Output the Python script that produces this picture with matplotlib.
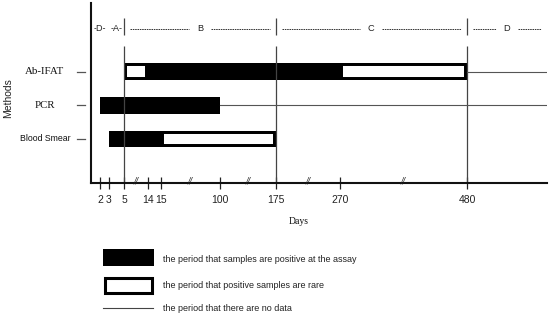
import numpy as np
import matplotlib
matplotlib.use("Agg")
import matplotlib.pyplot as plt
from matplotlib.patches import Rectangle
from matplotlib.lines import Line2D
import matplotlib.transforms as mtransforms

# ---------------- data ----------------
methods = ["Blood Smear", "PCR", "Ab-IFAT"]          # bottom -> top
method_fonts = ["Liberation Sans", "Liberation Serif", "Liberation Serif"]
# segments: (start day, end day, kind)
x_end = 600
segments = {
    "Ab-IFAT": [(5, 14, "rare"), (14, 270, "pos"), (270, 480, "rare"), (480, x_end, "nodata")],
    "PCR": [(2, 100, "pos"), (100, x_end, "nodata")],
    "Blood Smear": [(3, 15, "pos"), (15, 175, "rare")],
}
tick_days = [2, 3, 5, 14, 15, 100, 175, 270, 480]
break_pairs = [(5, 14), (15, 100), (100, 175), (175, 270), (270, 480)]
phase_names = ["D", "A", "B", "C", "D"]
phase_bounds = [0, 3, 5, 175, 480, x_end]
marker_days = [5, 175, 480]
legend_labels = ["the period that samples are positive at the assay",
                 "the period that positive samples are rare",
                 "the period that there are no data"]

# ---------------- piecewise (broken) axis scale ----------------
knot_days = [0, 2, 3, 5, 14, 15, 100, 175, 270, 480, x_end]
knot_pos = [91, 100, 109, 124.3, 148, 160.7, 220, 275.7, 340, 467, 547]

def fwd(x):
    return np.interp(x, knot_days, knot_pos)

def inv(p):
    return np.interp(p, knot_pos, knot_days)

W, H = 550, 318
fig = plt.figure(figsize=(W / 100, H / 100), dpi=100)
ax = fig.add_axes([91 / W, 1 - 183 / H, 456 / W, 180 / H])
ax.set_xscale("function", functions=(fwd, inv))
ax.set_xlim(0, x_end)
ax.set_ylim(-1.31, 4.04)

for s in ["top", "right"]:
    ax.spines[s].set_visible(False)
for s in ["left", "bottom"]:
    ax.spines[s].set_linewidth(1.5)
    ax.spines[s].set_color("#111")

# x ticks
ax.set_xticks(tick_days)
ax.set_xticklabels([str(d) for d in tick_days], fontsize=7.5, family="Liberation Sans", color="#222")
ax.tick_params(axis="x", direction="inout", length=9, width=0.9, color="#222", pad=4)
ax.xaxis.get_major_ticks()[1].tick1line.set_color("#aaaaaa")
ax.set_yticks([])

# break marks
for a, b in break_pairs:
    mid = inv((fwd(a) + fwd(b)) / 2)
    ax.text(mid, -1.25, "//", fontsize=5.5, style="italic", color="#222",
            ha="center", va="center", clip_on=False, family="DejaVu Sans")

# vertical marker lines
for d in marker_days:
    ax.plot([d, d], [-1.31, 2.76], color="#444", lw=0.9, solid_capstyle="butt")
    ax.plot([d, d], [3.09, 3.60], color="#444", lw=0.9, solid_capstyle="butt", clip_on=False)

# phase header
yh = 3.27
for name, a, b in zip(phase_names, phase_bounds[:-1], phase_bounds[1:]):
    pa, pb = fwd(a), fwd(b)
    width = pb - pa
    pm = (pa + pb) / 2
    if width < 30:
        ax.text(inv(pm), yh, "-" + name + "-", fontsize=6.5, ha="center", va="center",
                family="Liberation Sans", color="#222")
        continue
    gap = 11
    pad = 6
    dash = dict(color="#333", lw=0.7, linestyle=(0, (1.6, 0.8)), clip_on=False)
    ax.plot([inv(pa + pad), inv(pm - gap)], [yh, yh], **dash)
    ax.plot([inv(pm + gap), inv(pb - pad)], [yh, yh], **dash)
    ax.text(inv(pm), yh, name, fontsize=6.7, ha="center", va="center",
            family="Liberation Sans", color="#222")

# bars
bar_h = 0.5
for yi, m in enumerate(methods):
    segs = segments[m]
    bars = [s for s in segs if s[2] in ("pos", "rare")]
    if bars:
        start = min(s[0] for s in bars)
        end = max(s[1] for s in bars)
        outer = ax.barh(yi, end - start, left=start, height=bar_h, color="black", lw=0)[0]
        for s0, s1, kind in bars:
            if kind == "rare":
                r = ax.barh(yi, s1 - s0, left=s0, height=bar_h, facecolor="white",
                            edgecolor="black", lw=4.3)[0]
                r.set_clip_path(outer)
    for s0, s1, kind in segs:
        if kind == "nodata":
            ax.plot([s0, s1], [yi, yi], color="#555", lw=0.8)

# y labels and tick dashes
blend = mtransforms.blended_transform_factory(ax.transAxes, ax.transData)
for yi, (m, fam) in enumerate(zip(methods, method_fonts)):
    ax.text(-0.101, yi, m, transform=blend, ha="center", va="center",
            fontsize=7.8 if "Serif" in fam else 6.3, family=fam, color="#111")
    ax.add_line(Line2D([-0.0307, -0.0132], [yi, yi], transform=blend, color="#555",
                       lw=0.9, clip_on=False))

fig.text(8 / W, 1 - 98 / H, "Methods", rotation=90, ha="center", va="center",
         fontsize=7.5, family="Liberation Sans", color="#222")
fig.text(299 / W, 1 - 221 / H, "Days", ha="center", va="center",
         fontsize=7, family="Liberation Serif", color="#111")

# legend
def fx(x):
    return x / W

def fy(y):
    return 1 - y / H

fig.add_artist(Rectangle((fx(102.7), fy(265.7)), fx(154.3) - fx(102.7), fy(249) - fy(265.7),
                         transform=fig.transFigure, facecolor="black", edgecolor="none"))
fig.add_artist(Rectangle((fx(104.5), fy(292.8)), fx(151.5) - fx(104.5), fy(278.2) - fy(292.8),
                         transform=fig.transFigure, facecolor="white", edgecolor="black", lw=2.2))
fig.add_artist(Line2D([fx(103), fx(153)], [fy(308), fy(308)], transform=fig.transFigure,
                      color="#444", lw=0.8))
for lbl, yy in zip(legend_labels, [259.3, 285.5, 308.7]):
    fig.text(fx(163), fy(yy), lbl, ha="left", va="center", fontsize=6.5,
             family="Liberation Sans", color="#222")

fig.savefig("out.png", dpi=100)
